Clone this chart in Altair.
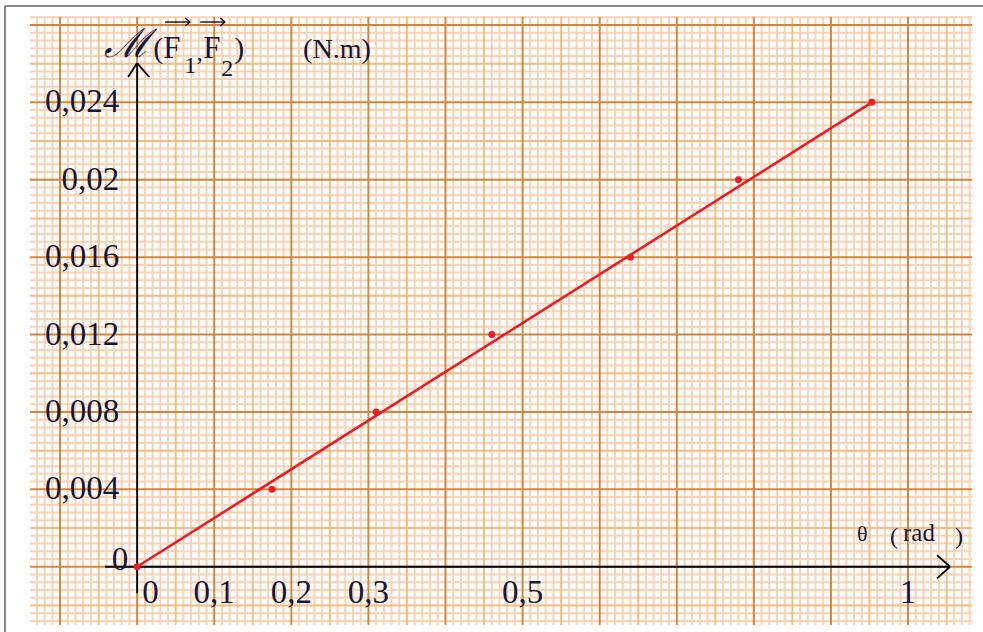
import altair as alt
import numpy as np
import pandas as pd

# Measured moment of the couple versus twist angle
theta_rad = [0.0, 0.175, 0.31, 0.46, 0.64, 0.78, 0.953]
moment_nm = [0.0, 0.004, 0.008, 0.012, 0.016, 0.020, 0.024]

# Straight line through the origin fitted to the measurements
fit_theta = [0.0, 0.953]
fit_moment = [0.0, 0.024]

# Graduations written along the axes
x_tick_values = [0.1, 0.2, 0.3, 0.5, 1.0]
x_tick_labels = ["0,1", "0,2", "0,3", "0,5", "1"]
y_tick_values = [0.004, 0.008, 0.012, 0.016, 0.020, 0.024]
y_tick_labels = ["0,004", "0,008", "0,012", "0,016", "0,02", "0,024"]

SERIF = "Liberation Serif"
INK = "#16163a"
RED = "#ec1c24"

xs = alt.Scale(domain=[-0.139, 1.083], nice=False, zero=False)
ys = alt.Scale(domain=[-0.00301, 0.02841], nice=False, zero=False)


def X(field="x"):
    return alt.X(f"{field}:Q", scale=xs, axis=None)


def Y(field="y"):
    return alt.Y(f"{field}:Q", scale=ys, axis=None)


# ---- millimetre paper -------------------------------------------------------
kx = np.arange(-13, 109)          # one line every 0.01 rad
ky = np.arange(-7, 72)            # one line every 0.0004 N.m


def grid(sel_x, sel_y, color, width):
    vx = pd.DataFrame({"v": kx[sel_x(kx)] / 100.0})
    vy = pd.DataFrame({"v": ky[sel_y(ky)] * 0.0004})
    vert = alt.Chart(vx).mark_rule(color=color, strokeWidth=width).encode(x=X("v"))
    horiz = alt.Chart(vy).mark_rule(color=color, strokeWidth=width).encode(y=Y("v"))
    return [vert, horiz]


fine = grid(lambda k: k % 5 != 0, lambda k: k % 5 != 0, "#f8d3b6", 2)
half = grid(lambda k: (k % 5 == 0) & (k % 10 != 0),
            lambda k: (k % 5 == 0) & (k % 10 != 0), "#f5bd80", 2)
major = grid(lambda k: k % 10 == 0, lambda k: k % 10 == 0, "#d4873a", 2)

# ---- frame around the sheet (left and top edges, in the padding) ---------------
one = pd.DataFrame({"k": [0]})
frame_top = alt.Chart(one).mark_rule(color="#8a8a8a", strokeWidth=2).encode(
    x=alt.value(-25), x2=alt.value(960), y=alt.value(-11), y2=alt.value(-11))
frame_left = alt.Chart(one).mark_rule(color="#8a8a8a", strokeWidth=2).encode(
    x=alt.value(-25), x2=alt.value(-25), y=alt.value(-11), y2=alt.value(620))


def segments(x, y, x2, y2, width):
    return alt.Chart(pd.DataFrame({"x": x, "y": y, "x2": x2, "y2": y2})).mark_rule(
        color="black", strokeWidth=width
    ).encode(x=X(), y=Y(), x2="x2:Q", y2="y2:Q")


# ---- axes with arrow heads ---------------------------------------------------
axes = segments(
    x=[-0.0415, 1.0376, 1.0376, 0.0, -0.0117, 0.0156],
    y=[0.0, 0.0006, -0.0006, -0.00137, 0.02531, 0.02531],
    x2=[1.0545, 1.0545, 1.0545, 0.0, 0.0, 0.0],
    y2=[0.0, 0.0, 0.0, 0.02603, 0.02603, 0.02603],
    width=1.8,
)

# vector arrows above the two forces
vec_arrows = segments(
    x=[0.0363, 0.0623, 0.0623, 0.0817, 0.1077, 0.1077],
    y=[0.02815, 0.02836, 0.02794, 0.02815, 0.02836, 0.02794],
    x2=[0.0687, 0.0687, 0.0687, 0.1141, 0.1141, 0.1141],
    y2=[0.02815, 0.02815, 0.02815, 0.02815, 0.02815, 0.02815],
    width=1.3,
)

# ---- measurements and fitted line -------------------------------------------
meas = pd.DataFrame({"theta": theta_rad, "moment": moment_nm})
fit = pd.DataFrame({"theta": fit_theta, "moment": fit_moment})

line = alt.Chart(fit).mark_line(color=RED, strokeWidth=2.6).encode(
    x=X("theta"), y=Y("moment"))
points = alt.Chart(meas).mark_circle(color=RED, opacity=1, size=48).encode(
    x=X("theta"), y=Y("moment"))

# ---- graduations -------------------------------------------------------------
ylab = alt.Chart(pd.DataFrame({
    "x": [-0.0233] * len(y_tick_values), "y": y_tick_values, "t": y_tick_labels,
})).mark_text(
    font=SERIF, fontSize=33, color=INK, align="right", baseline="middle"
).encode(x=X(), y=Y(), text="t:N")

xlab = alt.Chart(pd.DataFrame({
    "x": x_tick_values, "y": [-0.00188] * len(x_tick_values), "t": x_tick_labels,
})).mark_text(
    font=SERIF, fontSize=33, color=INK, align="center", baseline="alphabetic"
).encode(x=X(), y=Y(), text="t:N")


def note(x, y, text, size, align="left", baseline="alphabetic", font=SERIF, style="normal"):
    return alt.Chart(pd.DataFrame({"x": [x], "y": [y], "t": [text]})).mark_text(
        font=font, fontSize=size, color=INK, align=align, baseline=baseline,
        fontStyle=style,
    ).encode(x=X(), y=Y(), text="t:N")


# ---- origin graduations and axis titles ---------------------------------------
notes = [
    note(-0.0117, -0.00017, "0", 33, align="right"),
    note(0.0065, -0.00188, "0", 33),
    note(-0.013, 0.02634, "ℳ", 40, align="center", font="DejaVu Serif", style="italic"),
    note(0.0208, 0.02629, "(", 30),
    note(0.0338, 0.02629, "F", 31),
    note(0.061, 0.02551, "1", 24),
    note(0.0772, 0.02618, ",", 24),
    note(0.0856, 0.02629, "F", 31),
    note(0.109, 0.02536, "2", 24),
    note(0.1258, 0.02629, ")", 30),
    note(0.2153, 0.02629, "(N.m)", 28),
    note(0.9339, 0.00133, "θ", 22),
    note(0.9767, 0.00120, "(", 24),
    note(0.9935, 0.00133, "rad", 25),
    note(1.0610, 0.00120, ")", 24),
]

chart = alt.layer(
    *fine, *half, *major, frame_top, frame_left, axes, vec_arrows,
    line, points, ylab, xlab, *notes
).properties(
    width=942, height=608,
    padding={"left": 30, "top": 17, "right": 11, "bottom": 7},
    autosize=alt.AutoSizeParams(type="none"),
    background="white",
).configure_view(stroke=None)

chart.save("out.html", embed_options={"renderer": "svg", "actions": False})
